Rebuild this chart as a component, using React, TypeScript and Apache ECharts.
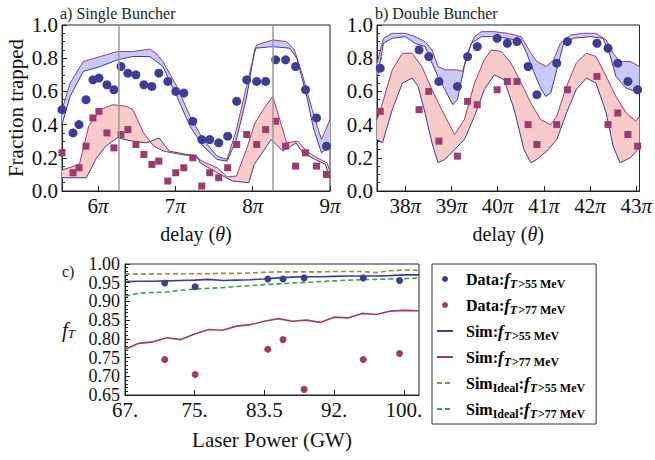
import React, { useEffect, useRef } from 'react';
import * as echarts from 'echarts';

const SERIF = '"Liberation Serif", "Times New Roman", serif';
const BLUE = '#3d3d99';
const PURPLE = '#993d71';
const GOLD = '#998b3d';
const GREEN = '#3d9e50';
const BLUE_FILL = '#c9c9f7';
const RED_FILL = '#f9caca';
const FRAME = '#222';

// ---------- Panel a: Single Buncher (x in units of pi) ----------
const delayTicksA = [6, 7, 8, 9];
const guideLinesA = [6.27, 8.26];
const blueUpperA = [[5.535,0.49],[5.64,0.65],[5.81,0.78],[6.03,0.81],[6.25,0.84],[6.45,0.84],[6.67,0.855],[6.75,0.83],[6.84,0.78],[7.02,0.63],[7.19,0.45],[7.36,0.31],[7.54,0.21],[7.67,0.19],[7.79,0.37],[7.92,0.63],[8.05,0.88],[8.26,0.91],[8.44,0.9],[8.54,0.85],[8.65,0.69],[8.77,0.49],[8.89,0.31],[9.0,0.43]];
const blueLowerA = [[5.535,0.4],[5.64,0.57],[5.81,0.72],[6.03,0.75],[6.25,0.79],[6.45,0.81],[6.67,0.81],[6.84,0.75],[7.02,0.57],[7.19,0.39],[7.36,0.27],[7.54,0.19],[7.67,0.18],[7.79,0.31],[7.92,0.56],[8.03,0.86],[8.26,0.87],[8.48,0.86],[8.57,0.8],[8.69,0.59],[8.79,0.37],[8.89,0.23],[9.0,0.27]];
const redUpperA = [[5.535,0.127],[5.76,0.16],[5.88,0.39],[6.03,0.49],[6.19,0.52],[6.37,0.51],[6.45,0.49],[6.59,0.35],[6.72,0.27],[6.85,0.24],[7.07,0.22],[7.23,0.21],[7.39,0.17],[7.54,0.14],[7.67,0.085],[7.79,0.09],[7.83,0.14],[7.92,0.25],[8.03,0.41],[8.15,0.5],[8.26,0.57],[8.35,0.43],[8.44,0.29],[8.58,0.3],[8.7,0.24],[8.83,0.2],[8.96,0.17],[9.0,0.12]];
const redLowerA = [[5.535,0.08],[5.85,0.08],[5.97,0.19],[6.1,0.27],[6.25,0.32],[6.45,0.3],[6.63,0.29],[6.79,0.32],[6.92,0.24],[7.15,0.22],[7.28,0.21],[7.32,0.17],[7.54,0.11],[7.74,0.06],[7.95,0.05],[8.02,0.16],[8.24,0.31],[8.39,0.24],[8.56,0.29],[8.65,0.23],[8.81,0.19],[8.94,0.16],[9.0,0.08]];
const dotsXA = [5.535,5.677,5.755,5.845,5.935,6.013,6.116,6.206,6.297,6.387,6.49,6.594,6.697,6.787,6.903,7.006,7.11,7.226,7.342,7.445,7.561,7.677,7.794,7.923,8.052,8.168,8.297,8.426,8.555,8.684,8.826,8.955];
const dots55A = [0.49,0.35,0.4,0.55,0.67,0.68,0.64,0.61,0.75,0.71,0.7,0.64,0.63,0.71,0.66,0.6,0.59,0.42,0.31,0.31,0.29,0.33,0.54,0.67,0.66,0.66,0.79,0.79,0.75,0.61,0.44,0.27];
const dots77A = [0.23,0.11,0.14,0.27,0.44,0.48,0.35,0.26,0.34,0.37,0.28,0.22,0.16,0.18,0.06,0.11,0.14,0.2,0.03,0.11,0.08,0.14,0.28,0.34,0.28,0.37,0.42,0.27,0.15,0.23,0.15,0.1];

// ---------- Panel b: Double Buncher ----------
const delayTicksB = [38, 39, 40, 41, 42, 43];
const blueUpperB = [[37.39,0.77],[37.53,0.92],[37.72,0.95],[38.0,0.95],[38.21,0.93],[38.43,0.9],[38.58,0.85],[38.71,0.75],[38.86,0.73],[39.13,0.73],[39.24,0.72],[39.35,0.83],[39.5,0.93],[39.65,0.96],[39.93,0.96],[40.21,0.95],[40.51,0.93],[40.72,0.83],[40.85,0.78],[41.06,0.75],[41.21,0.79],[41.36,0.89],[41.58,0.94],[41.85,0.95],[42.13,0.95],[42.35,0.91],[42.5,0.83],[42.65,0.78],[42.87,0.78],[43.07,0.75]];
const blueLowerB = [[37.39,0.67],[37.53,0.89],[37.72,0.92],[38.0,0.93],[38.21,0.89],[38.43,0.87],[38.58,0.77],[38.71,0.69],[38.86,0.61],[39.03,0.52],[39.13,0.55],[39.28,0.75],[39.43,0.89],[39.65,0.93],[39.93,0.93],[40.21,0.92],[40.51,0.9],[40.63,0.83],[40.78,0.72],[40.93,0.62],[41.04,0.57],[41.15,0.59],[41.28,0.73],[41.43,0.89],[41.64,0.92],[42.0,0.93],[42.28,0.92],[42.43,0.82],[42.56,0.69],[42.78,0.62],[43.07,0.59]];
const redUpperB = [[37.39,0.43],[37.51,0.53],[37.72,0.73],[37.94,0.83],[38.15,0.83],[38.36,0.75],[38.58,0.61],[38.79,0.49],[39.07,0.34],[39.28,0.43],[39.5,0.65],[39.71,0.79],[39.86,0.85],[40.08,0.84],[40.29,0.77],[40.51,0.65],[40.72,0.53],[40.93,0.43],[41.15,0.4],[41.28,0.45],[41.49,0.63],[41.7,0.77],[41.92,0.83],[42.13,0.81],[42.35,0.69],[42.56,0.57],[42.78,0.47],[42.99,0.42],[43.07,0.45]];
const redLowerB = [[37.39,0.31],[37.51,0.29],[37.72,0.49],[37.94,0.65],[38.15,0.68],[38.28,0.63],[38.43,0.47],[38.58,0.29],[38.71,0.17],[38.86,0.19],[39.07,0.25],[39.28,0.31],[39.5,0.45],[39.71,0.61],[39.93,0.7],[40.14,0.67],[40.36,0.49],[40.57,0.25],[40.72,0.17],[40.85,0.19],[41.06,0.24],[41.28,0.31],[41.49,0.47],[41.7,0.61],[41.92,0.68],[42.13,0.65],[42.35,0.47],[42.5,0.27],[42.65,0.17],[42.87,0.2],[43.07,0.26]];
const dotsXB = [37.46,38.3,38.51,38.73,39.13,39.35,39.56,39.99,40.21,40.42,40.66,40.85,41.28,41.51,42.15,42.39,42.6,42.82,43.03];
const dots55B = [0.74,0.85,0.81,0.66,0.63,0.81,0.87,0.92,0.89,0.9,0.75,0.58,0.77,0.9,0.89,0.86,0.77,0.66,0.61];
const dots77B = [0.48,0.49,0.6,0.3,0.21,0.54,0.52,0.61,0.66,0.66,0.4,0.28,0.4,0.61,0.69,0.4,0.47,0.34,0.27];

// ---------- Panel c: fraction vs laser power ----------
const powerTicks = [67, 75.25, 83.5, 91.75, 100];
const powerTickLabels = ['67.', '75.', '83.5', '92.', '100.'];
const powerData = [71.7, 75.3, 83.9, 85.7, 88.2, 95.2, 99.5];
const data55 = [0.949, 0.939, 0.96, 0.96, 0.963, 0.963, 0.956];
const data77 = [0.745, 0.705, 0.772, 0.798, 0.665, 0.745, 0.761];
const powerSim = [67, 68.65, 70.3, 71.95, 73.6, 75.25, 76.9, 78.55, 80.2, 81.85, 83.5, 85.15, 86.8, 88.45, 90.1, 91.75, 93.4, 95.05, 96.7, 98.35, 100, 101.8];
const sim55 = [0.953,0.954,0.954,0.955,0.956,0.957,0.959,0.956,0.957,0.958,0.96,0.963,0.965,0.966,0.966,0.967,0.968,0.968,0.968,0.969,0.971,0.971];
const sim77 = [0.772,0.788,0.792,0.803,0.798,0.813,0.825,0.823,0.834,0.838,0.847,0.854,0.847,0.85,0.844,0.858,0.856,0.868,0.865,0.874,0.876,0.875];
const ideal55 = [0.973,0.973,0.973,0.974,0.974,0.974,0.974,0.975,0.975,0.976,0.978,0.979,0.979,0.979,0.979,0.98,0.98,0.98,0.977,0.982,0.984,0.983];
const ideal77 = [0.914,0.922,0.924,0.925,0.93,0.933,0.935,0.937,0.94,0.942,0.945,0.947,0.949,0.951,0.953,0.955,0.957,0.958,0.959,0.96,0.961,0.962];

const legendNames = ['Data55', 'Data77', 'Sim55', 'Sim77', 'Ideal55', 'Ideal77'];
const legendTexts: Record<string, string> = {
  Data55: '{b|Data:}{f|f}{t|T}{s|>55 MeV}',
  Data77: '{b|Data:}{f|f}{t|T}{s|>77 MeV}',
  Sim55: '{b|Sim:}{f|f}{t|T}{s|>55 MeV}',
  Sim77: '{b|Sim:}{f|f}{t|T}{s|>77 MeV}',
  Ideal55: '{b|Sim}{s|Ideal}{b|:}{f|f}{t|T}{s|>55 MeV}',
  Ideal77: '{b|Sim}{s|Ideal}{b|:}{f|f}{t|T}{s|>77 MeV}',
};

const zip = (xs: number[], ys: number[]) => xs.map((x, i) => [x, ys[i]]);

const TICK_SIZE = 21;
const tickFont = { fontFamily: SERIF, fontSize: TICK_SIZE, color: '#111' };
const piRich = {
  n: { fontFamily: SERIF, fontSize: TICK_SIZE, color: '#111' },
  p: { fontFamily: SERIF, fontSize: TICK_SIZE, fontStyle: 'italic', color: '#111' },
};

function band(upper: number[][], lower: number[][], fill: string, idx: number) {
  return {
    type: 'custom',
    xAxisIndex: idx,
    yAxisIndex: idx,
    silent: true,
    z: 1,
    data: [upper[0]],
    renderItem: (_params: any, api: any) => {
      const pts = upper.map((p) => api.coord(p)).concat(lower.slice().reverse().map((p) => api.coord(p)));
      return { type: 'polygon', shape: { points: pts }, style: { fill, stroke: 'none' } };
    },
  };
}

function edge(data: number[][], color: string, idx: number, extra: any = {}) {
  return {
    type: 'line', xAxisIndex: idx, yAxisIndex: idx, data, symbol: 'none', silent: true, z: 2,
    lineStyle: { color, width: 1 }, ...extra,
  };
}

function dots(idx: number, xs: number[], ys: number[], symbol: string, size: number, color: string, name?: string) {
  return {
    name, type: 'scatter', xAxisIndex: idx, yAxisIndex: idx, data: zip(xs, ys), symbol, symbolSize: size,
    itemStyle: { color, opacity: 1 }, z: 3, silent: true,
  };
}

function delayXAxis(idx: number, min: number, max: number, ticks: number[]) {
  return {
    type: 'value', gridIndex: idx, min, max,
    axisLine: { lineStyle: { color: FRAME, width: 1 } },
    axisTick: { inside: true, length: 5, customValues: ticks, lineStyle: { color: FRAME } },
    axisLabel: {
      customValues: ticks, margin: 4, ...tickFont, rich: piRich,
      formatter: (v: number) => `{n|${Math.round(v)}}{p|π}`,
    },
    splitLine: { show: false },
    name: 'delay ({i|θ})', nameLocation: 'middle', nameGap: 33,
    nameTextStyle: {
      fontFamily: SERIF, fontSize: 20, color: '#111',
      rich: { i: { fontFamily: SERIF, fontSize: 20, fontStyle: 'italic', color: '#111' } },
    },
  };
}

function fracYAxis(idx: number, withName: boolean) {
  return {
    type: 'value', gridIndex: idx, min: 0, max: 1, interval: 0.2,
    axisLine: { lineStyle: { color: FRAME, width: 1 } },
    axisTick: { inside: true, length: 5, lineStyle: { color: FRAME } },
    minorTick: { show: true, splitNumber: 4, length: 3, lineStyle: { color: FRAME } },
    axisLabel: { ...tickFont, margin: 4, interval: 0, showMinLabel: true, showMaxLabel: true, formatter: (v: number) => v.toFixed(1) },
    splitLine: { show: false },
    name: withName ? 'Fraction trapped' : '',
    nameLocation: 'middle', nameGap: 36,
    nameTextStyle: { fontFamily: SERIF, fontSize: 21, color: '#111' },
  };
}

export default function App() {
  const ref = useRef<HTMLDivElement>(null);
  useEffect(() => {
    if (!ref.current) return;
    const chart = echarts.init(ref.current, undefined, { renderer: 'svg' });
    const gridBase = { show: true, borderColor: FRAME, borderWidth: 1, backgroundColor: 'transparent' };
    const option: any = {
      animation: false,
      backgroundColor: '#fff',
      textStyle: { fontFamily: SERIF },
      grid: [
        { ...gridBase, left: 62, top: 25, width: 268, height: 166 },
        { ...gridBase, left: 377, top: 25, width: 266, height: 166 },
        { ...gridBase, left: 125, top: 264, width: 294, height: 131 },
      ],
      xAxis: [
        delayXAxis(0, 5.535, 9.0, delayTicksA),
        delayXAxis(1, 37.39, 43.07, delayTicksB),
        {
          type: 'value', gridIndex: 2, min: 67, max: 101.8,
          axisLine: { lineStyle: { color: FRAME, width: 1 } },
          axisTick: { inside: true, length: 5, customValues: powerTicks, lineStyle: { color: FRAME } },
          axisLabel: {
            customValues: powerTicks, margin: 4, ...tickFont,
            formatter: (v: number) => {
              const i = powerTicks.findIndex((t) => Math.abs(t - v) < 1e-6);
              return i >= 0 ? powerTickLabels[i] : '';
            },
          },
          splitLine: { show: false },
          name: 'Laser Power (GW)', nameLocation: 'middle', nameGap: 34,
          nameTextStyle: { fontFamily: SERIF, fontSize: 21, color: '#111' },
        },
      ],
      yAxis: [
        fracYAxis(0, true),
        fracYAxis(1, false),
        {
          type: 'value', gridIndex: 2, min: 0.65, max: 1.0, interval: 0.05,
          axisLine: { lineStyle: { color: FRAME, width: 1 } },
          axisTick: { inside: true, length: 5, lineStyle: { color: FRAME } },
          minorTick: { show: true, splitNumber: 5, length: 3, lineStyle: { color: FRAME } },
          axisLabel: {
            fontFamily: SERIF, fontSize: 18, color: '#111', lineHeight: 16, margin: 5,
            interval: 0, showMinLabel: true, showMaxLabel: true, hideOverlap: false,
            formatter: (v: number) => v.toFixed(2),
          },
          splitLine: { show: false },
          name: '{f|f}{t|T}', nameLocation: 'middle', nameGap: 50, nameRotate: 0,
          nameTextStyle: {
            rich: {
              f: { fontFamily: SERIF, fontSize: 21, fontStyle: 'italic', color: '#111' },
              t: { fontFamily: SERIF, fontSize: 13, fontStyle: 'italic', color: '#111', padding: [8, 0, 0, 0] },
            },
          },
        },
      ],
      legend: {
        orient: 'vertical', left: 432, top: 264,
        itemWidth: 16, itemHeight: 6, itemGap: 4,
        padding: [4, 11, 4, 4],
        borderColor: '#333', borderWidth: 1,
        selectedMode: false,
        data: legendNames.map((n) => (n.startsWith('Data') ? { name: n } : { name: n, itemStyle: { opacity: 0 } })),
        formatter: (name: string) => legendTexts[name],
        textStyle: {
          padding: [0, 0, 0, 8],
          rich: {
            b: { fontFamily: SERIF, fontWeight: 'bold', fontSize: 16, lineHeight: 21, color: '#000' },
            f: { fontFamily: SERIF, fontWeight: 'bold', fontStyle: 'italic', fontSize: 17, lineHeight: 21, color: '#000' },
            t: { fontFamily: SERIF, fontWeight: 'bold', fontStyle: 'italic', fontSize: 12, lineHeight: 21, color: '#000', padding: [10, 1, 0, 0] },
            s: { fontFamily: SERIF, fontWeight: 'bold', fontSize: 12, lineHeight: 21, color: '#000', padding: [10, 0, 0, 0] },
          },
        },
      },
      graphic: [
        { type: 'text', left: 60, top: 5, style: { text: 'a) Single Buncher', font: `16px ${SERIF}`, fill: '#222' } },
        { type: 'text', left: 375, top: 5, style: { text: 'b) Double Buncher', font: `16px ${SERIF}`, fill: '#222' } },
        { type: 'text', left: 62, top: 263, style: { text: 'c)', font: `16px ${SERIF}`, fill: '#222' } },
      ],
      series: [
        // panel a
        band(blueUpperA, blueLowerA, BLUE_FILL, 0),
        band(redUpperA, redLowerA, RED_FILL, 0),
        edge(blueUpperA, PURPLE, 0),
        edge(blueLowerA, BLUE, 0),
        edge(redUpperA, PURPLE, 0),
        edge(redLowerA, BLUE, 0, {
          markLine: {
            silent: true, symbol: ['none', 'none'], label: { show: false },
            lineStyle: { color: '#9a9a9a', width: 1.5, type: 'solid' },
            data: guideLinesA.map((x) => ({ xAxis: x })),
          },
        }),
        dots(0, dotsXA, dots55A, 'circle', 9, BLUE),
        dots(0, dotsXA, dots77A, 'rect', 7, PURPLE),
        // panel b
        band(blueUpperB, blueLowerB, BLUE_FILL, 1),
        band(redUpperB, redLowerB, RED_FILL, 1),
        edge(blueUpperB, PURPLE, 1),
        edge(blueLowerB, BLUE, 1),
        edge(redUpperB, PURPLE, 1),
        edge(redLowerB, BLUE, 1),
        dots(1, dotsXB, dots55B, 'circle', 9, BLUE),
        dots(1, dotsXB, dots77B, 'rect', 7, PURPLE),
        // panel c
        { name: 'Ideal55', type: 'line', xAxisIndex: 2, yAxisIndex: 2, data: zip(powerSim, ideal55), symbol: 'none', lineStyle: { color: GOLD, width: 1.6, type: [5, 3] }, itemStyle: { color: GOLD }, z: 2 },
        { name: 'Ideal77', type: 'line', xAxisIndex: 2, yAxisIndex: 2, data: zip(powerSim, ideal77), symbol: 'none', lineStyle: { color: GREEN, width: 1.6, type: [5, 3] }, itemStyle: { color: GREEN }, z: 2 },
        { name: 'Sim55', type: 'line', xAxisIndex: 2, yAxisIndex: 2, data: zip(powerSim, sim55), symbol: 'none', lineStyle: { color: BLUE, width: 1.6 }, itemStyle: { color: BLUE }, z: 2 },
        { name: 'Sim77', type: 'line', xAxisIndex: 2, yAxisIndex: 2, data: zip(powerSim, sim77), symbol: 'none', lineStyle: { color: PURPLE, width: 1.6 }, itemStyle: { color: PURPLE }, z: 2 },
        dots(2, powerData, data55, 'circle', 7, BLUE, 'Data55'),
        dots(2, powerData, data77, 'circle', 7, PURPLE, 'Data77'),
      ],
    };
    chart.setOption(option);
    return () => chart.dispose();
  }, []);
  return <div ref={ref} style={{ width: 655, height: 460, position: 'absolute', left: 0, top: 0 }} />;
}
